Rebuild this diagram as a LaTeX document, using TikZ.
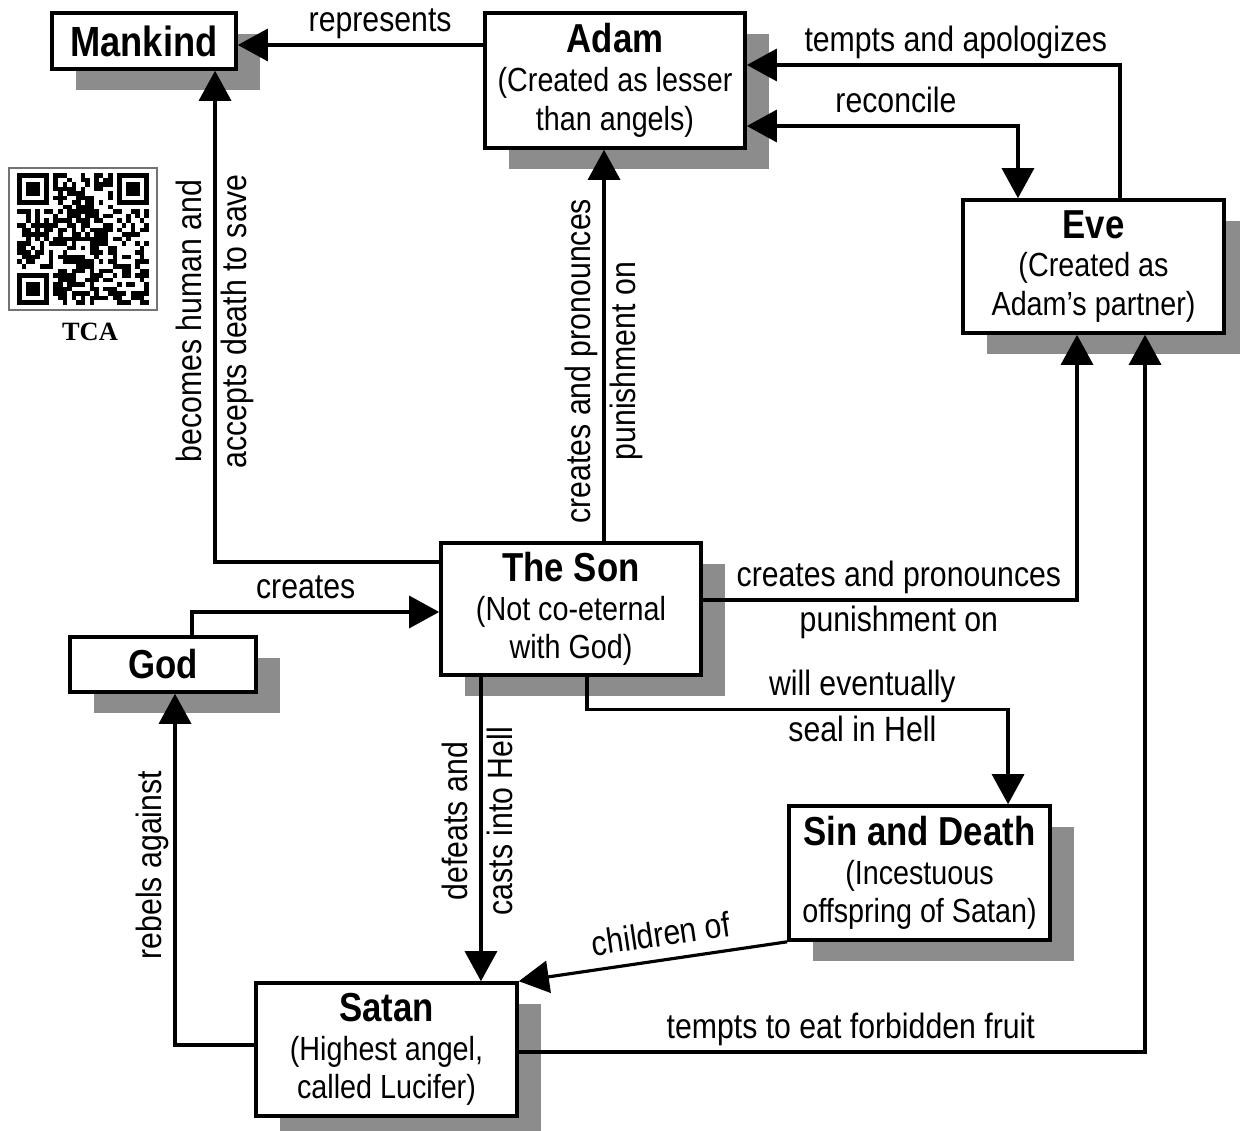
\documentclass[tikz,border=0pt]{standalone}
\usepackage{fontspec}
\setmainfont{Liberation Sans}[FakeStretch=0.86]
\newfontfamily\qrfont{Liberation Serif}
\usetikzlibrary{arrows.meta,shadows}

\newcommand{\boxtitle}[1]{{\fontsize{11.5}{12}\selectfont\bfseries #1}}

\begin{document}
\begin{tikzpicture}[
  x=0.01cm, y=-0.01cm,
  box/.style={rectangle, draw=black, line width=1pt, fill=white, align=center,
              inner sep=2pt, font=\fontsize{9.5}{11}\selectfont,
              drop shadow={shadow xshift=2.4mm, shadow yshift=-2.1mm,
                           fill=black!45, opacity=1}},
  arr/.style={-{Triangle[length=3mm, width=3.2mm]}, line width=0.9pt},
  darr/.style={{Triangle[length=3mm, width=3.2mm]}-{Triangle[length=3mm, width=3.2mm]},
               line width=0.9pt},
  lbl/.style={font=\fontsize{10}{11}\selectfont, inner sep=1pt,
              text height=0.75em, text depth=0.25em},
  vlbl/.style={lbl, rotate=90}
]
\useasboundingbox (0,0) rectangle (1240,1131);

\node[box, minimum width=18.4mm, minimum height=5.6mm] (man) at (144,41)
  {{\fontsize{12}{12}\selectfont\bfseries Mankind}};
\node[box, minimum width=26mm, minimum height=13.5mm] (adam) at (615,80.5)
  {\boxtitle{Adam}\\(Created as lesser\\than angels)};
\node[box, minimum width=26.1mm, minimum height=13.3mm] (eve) at (1093.5,266.5)
  {\boxtitle{Eve}\\(Created as\\Adam's partner)};
\node[box, minimum width=26mm, minimum height=13.2mm] (son) at (571,609)
  {\boxtitle{The Son}\\(Not co-eternal\\with God)};
\node[box, minimum width=18.6mm, minimum height=5.5mm] (god) at (163,664.5)
  {\boxtitle{God}};
\node[box, minimum width=26.1mm, minimum height=13.4mm] (sin) at (919.5,873)
  {\boxtitle{Sin and Death}\\(Incestuous\\offspring of Satan)};
\node[box, minimum width=26.1mm, minimum height=13.3mm] (satan) at (386.5,1049.5)
  {\boxtitle{Satan}\\(Highest angel,\\called Lucifer)};

\draw[arr] ([yshift=-0.4mm]adam.west |- man.east) --
  node[lbl, above, pos=.42]{represents} ([yshift=-0.4mm]man.east);
\draw[arr] ([yshift=4.7mm]son.west) -|
  node[vlbl, anchor=south, pos=.745]{becomes human and}
  node[vlbl, anchor=north, pos=.745]{accepts death to save} ([xshift=7.1mm]man.south);
\draw[arr] ([xshift=3.3mm]son.north) --
  node[vlbl, anchor=south, pos=.46]{creates and pronounces}
  node[vlbl, anchor=north, pos=.46]{punishment on} ([xshift=3.3mm]son.north |- adam.south);
\draw[arr] ([xshift=2.65mm]eve.north) |-
  node[lbl, above, pos=.72]{tempts and apologizes} ([yshift=1.55mm]adam.east);
\draw[darr] ([yshift=-4.55mm]adam.east) -|
  node[lbl, above, pos=.275]{reconcile} ([xshift=-7.55mm]eve.north);
\draw[arr] ([yshift=0.9mm]son.east) -|
  node[lbl, above, pos=.262]{creates and pronounces}
  node[lbl, below, pos=.262]{punishment on} ([xshift=-1.65mm]eve.south);
\draw[arr] ([xshift=2.9mm]god.north) |-
  node[lbl, above, pos=.73]{creates} ([yshift=-0.3mm]son.west);
\draw[arr] ([xshift=1.6mm]son.south) -- ++(0,33) -|
  node[lbl, above, pos=.327]{will eventually}
  node[lbl, below, pos=.327]{seal in Hell} ([xshift=8.85mm]sin.north);
\draw[arr] ([xshift=-9mm]son.south) --
  node[vlbl, anchor=south, pos=.474]{defeats and}
  node[vlbl, anchor=north, pos=.474]{casts into Hell} ([xshift=-9mm]son.south |- satan.north);
\draw[arr] ([yshift=0.45mm]satan.west) -|
  node[vlbl, anchor=south, pos=.756]{rebels against} ([xshift=1.2mm]god.south);
\draw[arr] (sin.south west) --
  node[lbl, sloped, above, pos=.456]{children of} (satan.north east);
\draw[arr] ([yshift=-0.25mm]satan.east) -|
  node[lbl, above, pos=.265]{tempts to eat forbidden fruit} ([xshift=5.15mm]eve.south);

%% QR code with its caption
\draw[black!55, line width=0.4pt] (9,168) rectangle (157,310);
\pgfmathsetseed{2718}
\foreach \i in {0,...,28}{
  \foreach \j in {0,...,28}{
    \pgfmathtruncatemacro{\qrbit}{((\i<8 && \j<8) || (\i>20 && \j<8) || (\i<8 && \j>20)) ? 0 : (rnd<0.55)}
    \ifnum\qrbit=1 \fill (17+4.55*\i,173+4.55*\j) rectangle ++(4.55,4.55); \fi
  }
}
\foreach \cx/\cy in {17/173, 117.1/173, 17/273.1}{
  \fill (\cx,\cy) rectangle ++(31.85,31.85);
  \fill[white] (\cx+4.55,\cy+4.55) rectangle ++(22.75,22.75);
  \fill (\cx+9.1,\cy+9.1) rectangle ++(13.65,13.65);
}
\node[font=\qrfont\bfseries\fontsize{7.5}{9}\selectfont] (tca) at (90,332) {TCA};

\end{tikzpicture}
\end{document}
